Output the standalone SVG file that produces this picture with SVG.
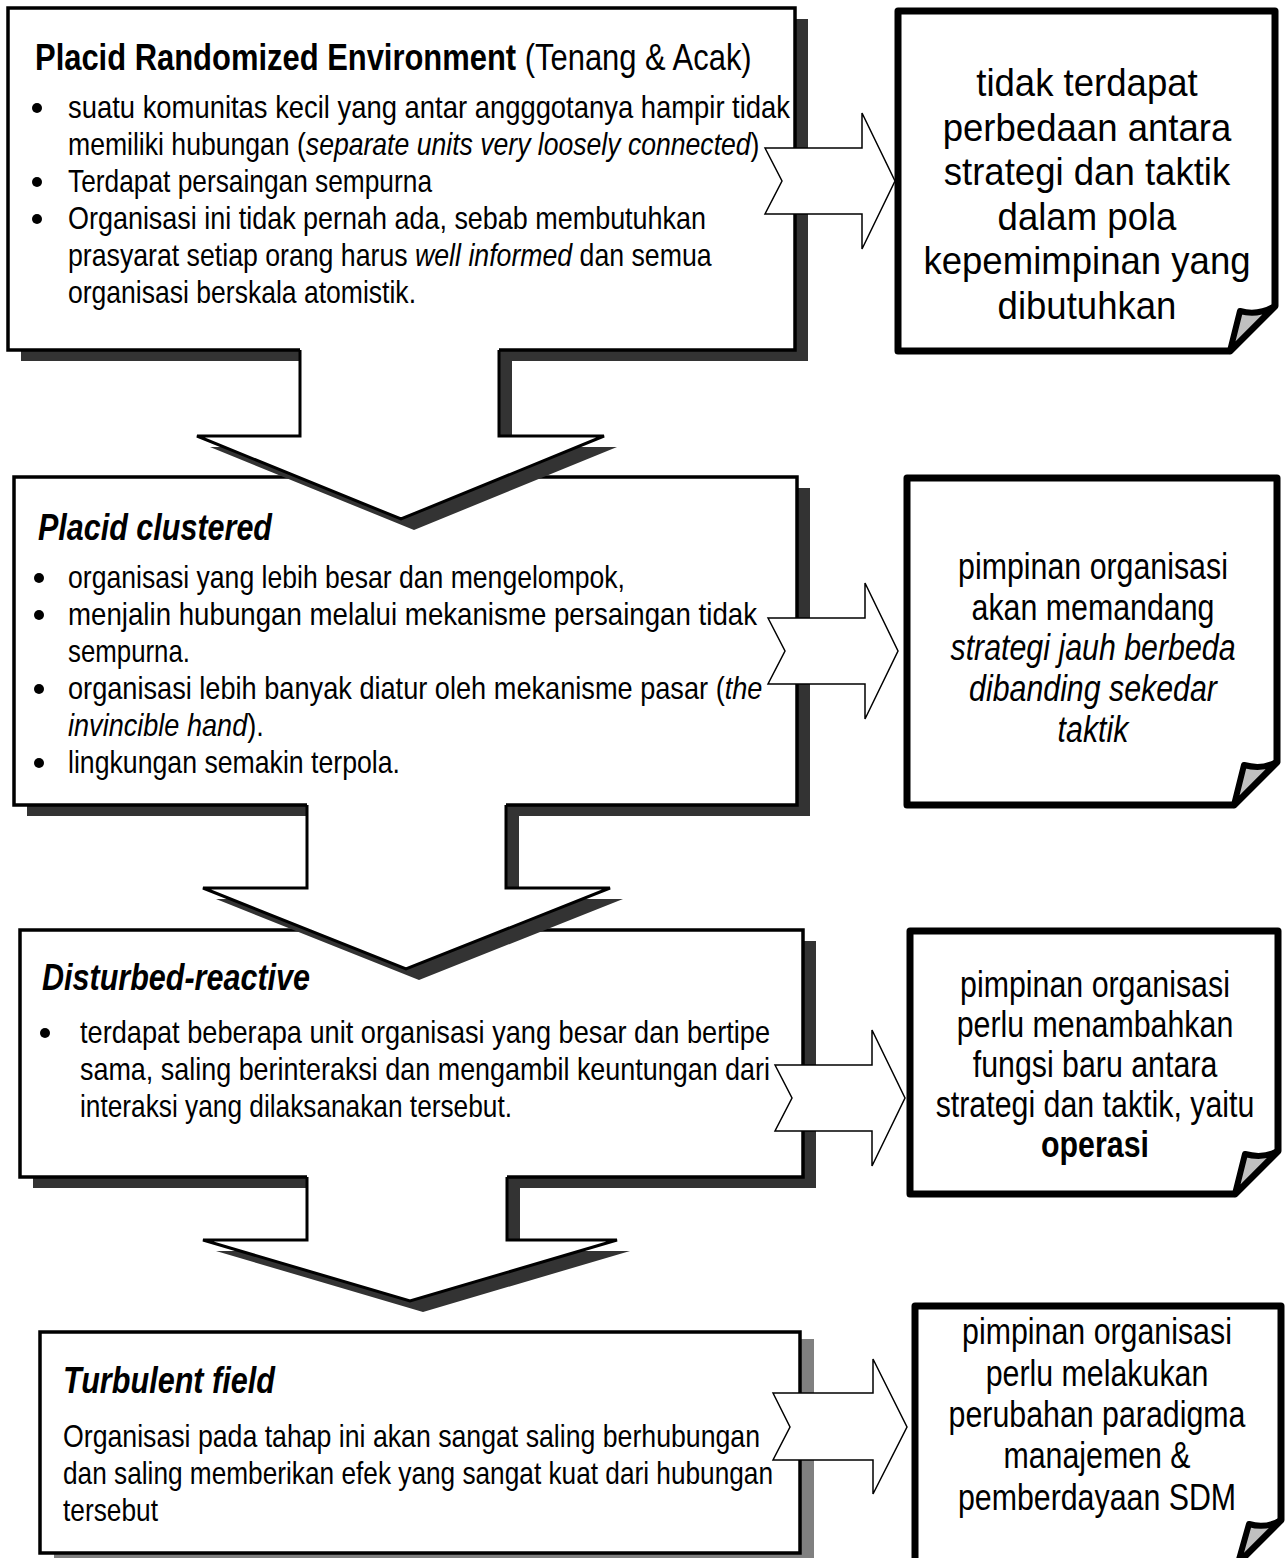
<svg xmlns="http://www.w3.org/2000/svg" width="1285" height="1558" viewBox="0 0 1285 1558">
<style>
.box{fill:#fff;stroke:#000;stroke-width:3.5}
.shd{fill:#333}
.shd2{fill:#808080}
.t{font-family:'Liberation Sans',Arial,sans-serif;font-size:32px;fill:#000}
.h{font-family:'Liberation Sans',Arial,sans-serif;font-size:37px;font-weight:bold;fill:#000}
.hi{font-family:'Liberation Sans',Arial,sans-serif;font-size:37px;font-weight:bold;font-style:italic;fill:#000}
.r{font-family:'Liberation Sans',Arial,sans-serif;font-size:37px;fill:#000;text-anchor:middle}
.r1{font-size:38.5px}
.i{font-style:italic}
.b{font-weight:bold}
.n{font-weight:normal}
.page{fill:#fff;stroke:#000;stroke-width:7;stroke-linejoin:round}
.flap{fill:#c0c0c0;stroke:#000;stroke-width:6;stroke-linejoin:round}
.af{fill:#fff}
.as{fill:none;stroke:#000;stroke-width:3;stroke-linejoin:miter}
.ra{fill:#fff;stroke:#000;stroke-width:1.5}
</style>

<g id="box4">
<rect class="shd2" x="54" y="1339" width="760" height="221"/>
<rect class="box" x="40" y="1332" width="760" height="221"/>
<text class="hi" x="63" y="1393" textLength="212" lengthAdjust="spacingAndGlyphs">Turbulent field</text>
<text class="t" x="63" y="1447" textLength="697" lengthAdjust="spacingAndGlyphs">Organisasi pada tahap ini akan sangat saling berhubungan</text>
<text class="t" x="63" y="1484" textLength="710" lengthAdjust="spacingAndGlyphs">dan saling memberikan efek yang sangat kuat dari hubungan</text>
<text class="t" x="63" y="1521" textLength="95" lengthAdjust="spacingAndGlyphs">tersebut</text>
</g>

<g id="box3">
<rect class="shd" x="33" y="941" width="783" height="247"/>
<rect class="box" x="20" y="930" width="783" height="247"/>
<text class="hi" x="42" y="990" textLength="268" lengthAdjust="spacingAndGlyphs">Disturbed-reactive</text>
<circle cx="45" cy="1033" r="5"/>
<text class="t" x="80" y="1043" textLength="690" lengthAdjust="spacingAndGlyphs">terdapat beberapa unit organisasi yang besar dan bertipe</text>
<text class="t" x="80" y="1080" textLength="690" lengthAdjust="spacingAndGlyphs">sama, saling berinteraksi dan mengambil keuntungan dari</text>
<text class="t" x="80" y="1117" textLength="432" lengthAdjust="spacingAndGlyphs">interaksi yang dilaksanakan tersebut.</text>
</g>

<g id="box2">
<rect class="shd" x="27" y="488" width="783" height="328"/>
<rect class="box" x="14" y="477" width="783" height="328"/>
<text class="hi" x="38" y="540" textLength="234" lengthAdjust="spacingAndGlyphs">Placid clustered</text>
<circle cx="39" cy="578" r="5"/>
<circle cx="39" cy="615" r="5"/>
<circle cx="39" cy="689" r="5"/>
<circle cx="39" cy="763" r="5"/>
<text class="t" x="68" y="588" textLength="557" lengthAdjust="spacingAndGlyphs">organisasi yang lebih besar dan mengelompok,</text>
<text class="t" x="68" y="625" textLength="689" lengthAdjust="spacingAndGlyphs">menjalin hubungan melalui mekanisme persaingan tidak</text>
<text class="t" x="68" y="662" textLength="122" lengthAdjust="spacingAndGlyphs">sempurna.</text>
<text class="t" transform="translate(68,699) scale(0.849,1)" x="0" y="0">organisasi lebih banyak diatur oleh mekanisme pasar (<tspan class="i">the</tspan></text>
<text class="t" transform="translate(68,736) scale(0.847,1)" x="0" y="0"><tspan class="i">invincible hand</tspan>).</text>
<text class="t" x="68" y="773" textLength="332" lengthAdjust="spacingAndGlyphs">lingkungan semakin terpola.</text>
</g>

<g id="box1">
<rect class="shd" x="21" y="19" width="787" height="342"/>
<rect class="box" x="8" y="8" width="787" height="342"/>
<text class="h" transform="translate(35,70) scale(0.836,1)" x="0" y="0">Placid Randomized Environment<tspan class="n"> (Tenang &amp; Acak)</tspan></text>
<circle cx="37" cy="108" r="5"/>
<circle cx="37" cy="182" r="5"/>
<circle cx="37" cy="219" r="5"/>
<text class="t" x="68" y="118" textLength="722" lengthAdjust="spacingAndGlyphs">suatu komunitas kecil yang antar angggotanya hampir tidak</text>
<text class="t" transform="translate(68,155) scale(0.831,1)" x="0" y="0">memiliki hubungan (<tspan class="i">separate units very loosely connected</tspan>)</text>
<text class="t" x="68" y="192" textLength="364" lengthAdjust="spacingAndGlyphs">Terdapat persaingan sempurna</text>
<text class="t" x="68" y="229" textLength="638" lengthAdjust="spacingAndGlyphs">Organisasi ini tidak pernah ada, sebab membutuhkan</text>
<text class="t" transform="translate(68,266) scale(0.834,1)" x="0" y="0">prasyarat setiap orang harus <tspan class="i">well informed</tspan> dan semua</text>
<text class="t" x="68" y="303" textLength="348" lengthAdjust="spacingAndGlyphs">organisasi berskala atomistik.</text>
</g>

<g id="note1">
<path class="page" d="M898,11 H1275 V306 L1230,351 H898 Z"/>
<path class="flap" d="M1230,351 L1240,311 Q1258,316 1275,306 Z"/>
<g transform="translate(1087,0) scale(0.95,1)">
<text class="r r1" x="0" y="96">tidak terdapat</text>
<text class="r r1" x="0" y="141">perbedaan antara</text>
<text class="r r1" x="0" y="185">strategi dan taktik</text>
<text class="r r1" x="0" y="230">dalam pola</text>
<text class="r r1" x="0" y="274">kepemimpinan yang</text>
<text class="r r1" x="0" y="319">dibutuhkan</text></g>
</g>

<g id="note2">
<path class="page" d="M907,478 H1277 V762 L1234,805 H907 Z"/>
<path class="flap" d="M1234,805 L1244,765 Q1262,770 1277,762 Z"/>
<g transform="translate(1093,0) scale(0.82,1)">
<text class="r" x="0" y="579">pimpinan organisasi</text>
<text class="r" x="0" y="620">akan memandang</text>
<text class="r i" x="0" y="660">strategi jauh berbeda</text>
<text class="r i" x="0" y="701">dibanding sekedar</text>
<text class="r i" x="0" y="742">taktik</text></g>
</g>

<g id="note3">
<path class="page" d="M910,931 H1278 V1151 L1235,1194 H910 Z"/>
<path class="flap" d="M1235,1194 L1245,1154 Q1263,1159 1278,1151 Z"/>
<g transform="translate(1095,0) scale(0.82,1)">
<text class="r" x="0" y="997">pimpinan organisasi</text>
<text class="r" x="0" y="1037">perlu menambahkan</text>
<text class="r" x="0" y="1077">fungsi baru antara</text>
<text class="r" x="0" y="1117">strategi dan taktik, yaitu</text>
<text class="r b" x="0" y="1157">operasi</text></g>
</g>

<g id="note4">
<path class="page" d="M915,1306 H1281 V1520 L1238,1563 H915 Z"/>
<path class="flap" d="M1238,1563 L1249,1524 Q1266,1529 1281,1520 Z"/>
<g transform="translate(1097,0) scale(0.82,1)">
<text class="r" x="0" y="1344">pimpinan organisasi</text>
<text class="r" x="0" y="1386">perlu melakukan</text>
<text class="r" x="0" y="1427">perubahan paradigma</text>
<text class="r" x="0" y="1468">manajemen &amp;</text>
<text class="r" x="0" y="1510">pemberdayaan SDM</text></g>
</g>

<g id="connectors">
<path class="shd" transform="translate(13,11)" d="M300,341 V436 H197 L401,519 L604,436 H499 V341 Z"/>
<path class="af" d="M300,346 V436 H197 L401,519 L604,436 H499 V346 Z"/>
<path class="as" d="M300,350 V436 H197 L401,519 L604,436 H499 V350"/>

<path class="shd" transform="translate(13,11)" d="M307,796 V888 H203 L406,969 L610,888 H506 V796 Z"/>
<path class="af" d="M307,801 V888 H203 L406,969 L610,888 H506 V801 Z"/>
<path class="as" d="M307,805 V888 H203 L406,969 L610,888 H506 V805"/>

<path class="shd" transform="translate(13,11)" d="M307,1168 V1240 H203 L410,1301 L617,1240 H507 V1168 Z"/>
<path class="af" d="M307,1173 V1240 H203 L410,1301 L617,1240 H507 V1173 Z"/>
<path class="as" d="M307,1177 V1240 H203 L410,1301 L617,1240 H507 V1177"/>

<polygon class="ra" points="765,148 782,181 765,214 862,214 862,249 895,181 862,113 862,148"/>
<polygon class="ra" points="768,618 785,651 768,684 865,684 865,719 898,651 865,583 865,618"/>
<polygon class="ra" points="775,1065 792,1098 775,1131 872,1131 872,1166 905,1098 872,1030 872,1065"/>
<polygon class="ra" points="773,1393 790,1427 773,1460 873,1460 873,1494 907,1427 873,1359 873,1393"/>
</g>
</svg>
